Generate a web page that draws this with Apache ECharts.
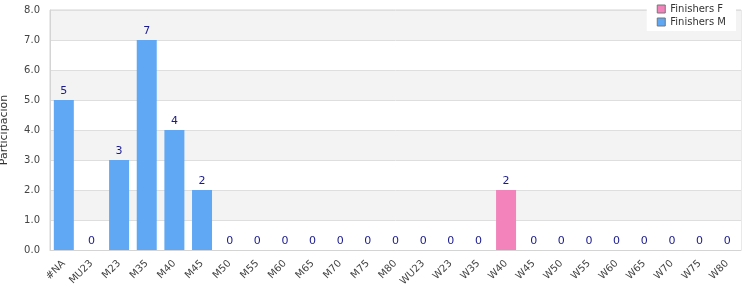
<!DOCTYPE html>
<html>
<head>
<meta charset="utf-8">
<script src="https://cdn.jsdelivr.net/npm/echarts@6/dist/echarts.min.js"></script>
<style>html,body{margin:0;padding:0;background:#fff}#c{width:750px;height:300px}</style>
</head>
<body>
<div id="c"></div>
<script>
var categories = ['#NA','MU23','M23','M35','M40','M45','M50','M55','M60','M65','M70','M75','M80','WU23','W23','W35','W40','W45','W50','W55','W60','W65','W70','W75','W80'];
var finishersM = [5,0,3,7,4,2,0,0,0,0,0,0,0,null,null,null,null,null,null,null,null,null,null,null,null];
var finishersF = [null,null,null,null,null,null,null,null,null,null,null,null,null,0,0,0,2,0,0,0,0,0,0,0,0];
var yTicks = [0,1,2,3,4,5,6,7,8];

var font = 'DejaVu Sans';
var chart = echarts.init(document.getElementById('c'), null, {renderer:'canvas'});
var labelCfg = {show:true, position:'top', color:'#1a1a8e', fontSize:11, fontFamily:font, distance:3};
chart.setOption({
  animation:false,
  textStyle:{fontFamily:font},
  grid:{left:50, right:9, top:10, bottom:50, outerBoundsMode:'none', containLabel:false,
        show:true, borderColor:'#d4d4d4', borderWidth:1},
  legend:{
    orient:'vertical', right:14, top:0, backgroundColor:'#ffffff',
    padding:[4,10,4,10], itemGap:3, itemWidth:8, itemHeight:8,
    textStyle:{fontSize:10, color:'#333', fontFamily:font},
    itemStyle:{borderColor:'#777', borderWidth:1},
    data:[{name:'Finishers F', icon:'rect'},{name:'Finishers M', icon:'rect'}]
  },
  xAxis:{
    type:'category', data:categories,
    axisLine:{lineStyle:{color:'#d4d4d4'}},
    axisTick:{show:false},
    axisLabel:{rotate:45, interval:0, fontSize:10, color:'#444', fontFamily:font, margin:12}
  },
  yAxis:{
    type:'value', min:yTicks[0], max:yTicks[yTicks.length-1], interval:1,
    name:'Participación', nameLocation:'middle', nameGap:40,
    nameTextStyle:{fontSize:11, color:'#333', fontFamily:font},
    axisLine:{show:true, lineStyle:{color:'#d4d4d4'}},
    axisTick:{show:false},
    axisLabel:{fontSize:10, color:'#444', fontFamily:font, margin:10, formatter:function(v){return v.toFixed(1);}},
    splitLine:{lineStyle:{color:'#dedede'}},
    splitArea:{show:true, areaStyle:{color:['#ffffff','#f3f3f3']}}
  },
  series:[
    {name:'Finishers F', type:'bar', stack:'s', data:finishersF, barWidth:20,
     itemStyle:{color:'#f283bb'}, label:labelCfg},
    {name:'Finishers M', type:'bar', stack:'s', data:finishersM, barWidth:20,
     itemStyle:{color:'#60a8f4'}, label:labelCfg}
  ]
});
</script>
</body>
</html>
